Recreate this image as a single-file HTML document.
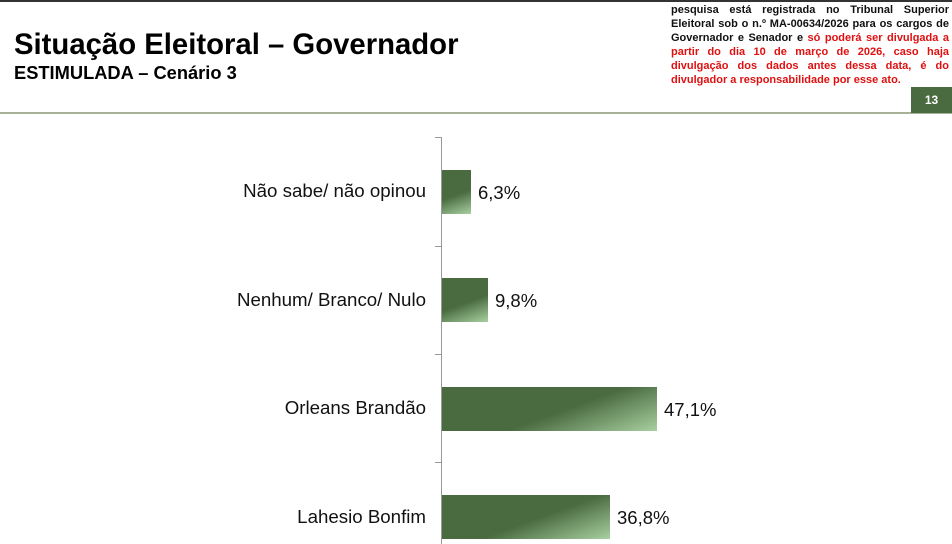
<!DOCTYPE html>
<html><head><meta charset="utf-8"><style>
body{margin:0;width:952px;height:544px;overflow:hidden;background:#fff;font-family:"Liberation Sans",sans-serif;position:relative}
.a{position:absolute}
.bar{position:absolute;left:442px;height:44px;background:linear-gradient(160deg,#4a6a40 0%,#4a6a40 55%,#a8d0a0 100%)}
.lab{position:absolute;right:526px;font-size:18.7px;color:#111;white-space:nowrap}
.val{position:absolute;font-size:18.5px;color:#111}
.tick{position:absolute;left:435px;width:6px;height:1px;background:#999}
</style></head><body>
<div class="a" style="left:0;top:0;width:952px;height:2px;background:#333"></div>
<div class="a" style="left:14px;top:28px;font-size:29.3px;font-weight:bold;color:#000">Situação Eleitoral – Governador</div>
<div class="a" style="left:14px;top:62px;font-size:18.3px;font-weight:bold;color:#000">ESTIMULADA – Cenário 3</div>
<div class="a" style="left:671px;top:4px;width:278px;font-size:11px;font-weight:bold;line-height:13.9px;text-align:justify;color:#111">pesquisa está registrada no Tribunal Superior Eleitoral sob o n.º MA-00634/2026 para os cargos de Governador e Senador e <span style="color:#e01010">só poderá ser divulgada a partir do dia 10 de março de 2026, caso haja divulgação dos dados antes dessa data, é do divulgador a responsabilidade por esse ato.</span></div>
<div class="a" style="left:0;top:112px;width:952px;height:2px;background:#a8b098"></div>
<div class="a" style="left:911px;top:87px;width:41px;height:26px;background:#4a6a40;color:#fff;font-size:12px;font-weight:bold;text-align:center;line-height:26px">13</div>
<div class="a" style="left:441px;top:137px;width:1px;height:407px;background:#999"></div>
<div class="tick" style="top:137px"></div><div class="tick" style="top:246px"></div><div class="tick" style="top:354px"></div><div class="tick" style="top:462px"></div>
<div class="bar" style="top:170px;width:29px"></div>
<div class="bar" style="top:278px;width:46px"></div>
<div class="bar" style="top:387px;width:215px"></div>
<div class="bar" style="top:495px;width:168px"></div>
<div class="lab" style="top:180px">Não sabe/ não opinou</div>
<div class="lab" style="top:289px">Nenhum/ Branco/ Nulo</div>
<div class="lab" style="top:397px">Orleans Brandão</div>
<div class="lab" style="top:506px">Lahesio Bonfim</div>
<div class="val" style="left:478px;top:182px">6,3%</div>
<div class="val" style="left:495px;top:290px">9,8%</div>
<div class="val" style="left:664px;top:399px">47,1%</div>
<div class="val" style="left:617px;top:507px">36,8%</div>
</body></html>
